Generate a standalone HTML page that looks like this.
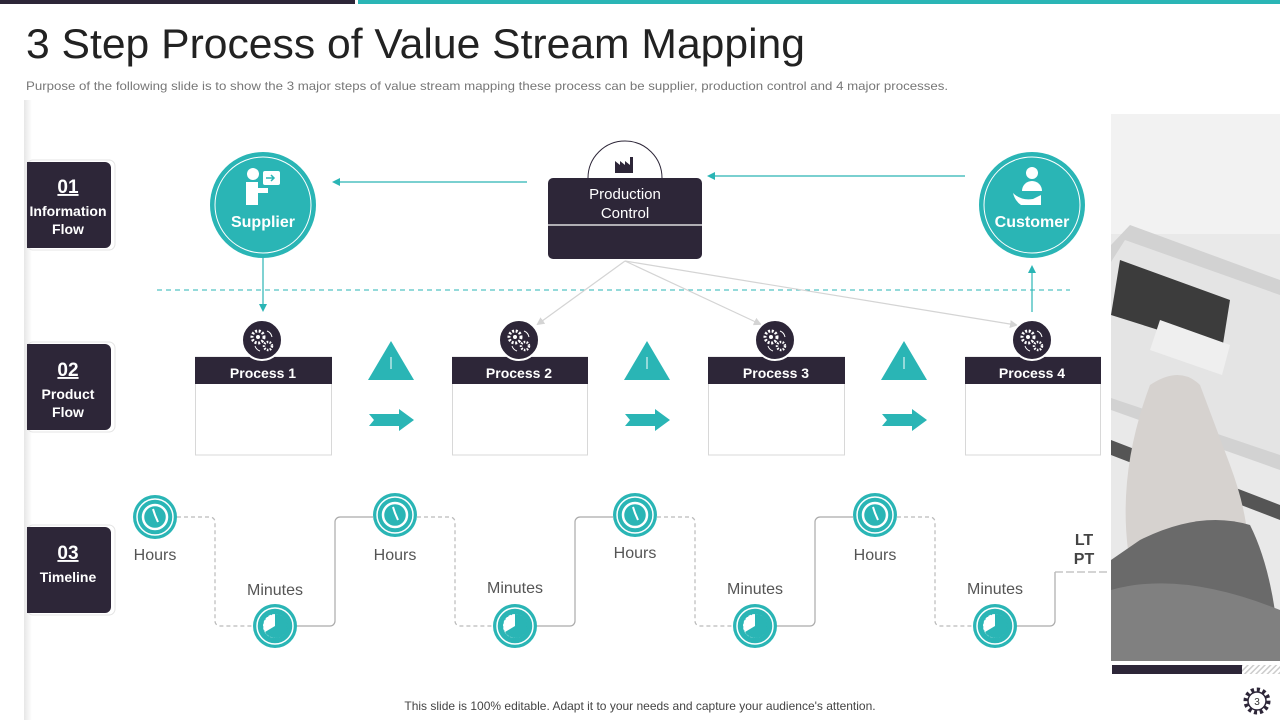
<!DOCTYPE html>
<html><head><meta charset="utf-8"><style>
html,body{margin:0;padding:0;background:#fff;}
svg{display:block;font-family:"Liberation Sans",sans-serif;}
</style></head><body>
<svg width="1280" height="720" viewBox="0 0 1280 720" xmlns="http://www.w3.org/2000/svg">
<defs>
<linearGradient id="sh" x1="0" x2="1"><stop offset="0" stop-color="#e6e6e6"/><stop offset="1" stop-color="#fff"/></linearGradient>
<marker id="at" markerWidth="8" markerHeight="8" refX="6" refY="4" orient="auto" markerUnits="userSpaceOnUse"><path d="M0,0 L8,4 L0,8 Z" fill="#2ab5b5"/></marker>
<marker id="ag" markerWidth="8" markerHeight="8" refX="6" refY="4" orient="auto" markerUnits="userSpaceOnUse"><path d="M0,0 L8,4 L0,8 Z" fill="#d4d4d4"/></marker>
<pattern id="hatch" width="4" height="4" patternUnits="userSpaceOnUse" patternTransform="rotate(45)"><rect width="4" height="4" fill="#fff"/><rect width="1.5" height="4" fill="#ccc"/></pattern>
<g id="gear"><circle r="20" fill="#2d2638" stroke="#fff" stroke-width="2"/><circle cx="-4" cy="-3" r="6" fill="none" stroke="#fff" stroke-width="3" stroke-dasharray="2 1.6"/><circle cx="-4" cy="-3" r="2" fill="#fff"/><circle cx="6" cy="6" r="4" fill="none" stroke="#fff" stroke-width="2.5" stroke-dasharray="1.6 1.3"/><path d="M5,-9 A8,8 0 0 1 10,-3" fill="none" stroke="#fff" stroke-width="1"/><path d="M-7,6 A8,8 0 0 0 -2,11" fill="none" stroke="#fff" stroke-width="1"/></g>
<g id="clockH"><circle r="22" fill="#2ab5b5"/><circle r="18" fill="none" stroke="#fff" stroke-width="1.5"/><circle r="12" fill="none" stroke="#fff" stroke-width="2.5"/><path d="M-2,-8 L0,-2 L3,5" fill="none" stroke="#fff" stroke-width="2"/></g>
<g id="clockM"><circle r="22" fill="#2ab5b5"/><circle r="18" fill="none" stroke="#fff" stroke-width="1.5"/><circle r="12" fill="#fff"/><path d="M0,0 L0,-12 A12,12 0 1 1 -10,6 Z" fill="#2ab5b5"/><circle r="12" fill="none" stroke="#2ab5b5" stroke-width="1" stroke-dasharray="1 3"/></g>
<g id="tri"><path d="M0,-20 L23,19 L-23,19 Z" fill="#2ab5b5"/><line x1="0" y1="-4" x2="0" y2="8" stroke="#fff" stroke-width="1"/></g>
<g id="arr"><path d="M-22,-6 L8,-6 L8,-11 L23,0 L8,11 L8,6 L-22,6 L-17,0 Z" fill="#2ab5b5"/></g>
</defs>

<rect x="0" y="0" width="355" height="4" fill="#2d2638"/>
<rect x="358" y="0" width="922" height="4" fill="#2ab5b5"/>
<text x="26" y="58" font-size="42" fill="#222" textLength="779" lengthAdjust="spacingAndGlyphs">3 Step Process of Value Stream Mapping</text>
<text x="26" y="90" font-size="12" fill="#777" textLength="922" lengthAdjust="spacingAndGlyphs">Purpose of the following slide is to show the 3 major steps of value  stream mapping these process can be supplier,  production  control and 4 major processes.</text>

<rect x="24" y="100" width="8" height="620" fill="url(#sh)"/>

<g font-weight="bold" fill="#fff" text-anchor="middle">
<rect x="27" y="160" width="88" height="90" rx="6" fill="none" stroke="#e4e4e4"/>
<path d="M27,162 H105 a6,6 0 0 1 6,6 V242 a6,6 0 0 1 -6,6 H27 Z" fill="#2d2638"/>
<text x="68" y="193" font-size="19" text-decoration="underline">01</text>
<text x="68" y="216" font-size="14">Information</text><text x="68" y="234" font-size="14">Flow</text>
<rect x="27" y="342" width="88" height="90" rx="6" fill="none" stroke="#e4e4e4"/>
<path d="M27,344 H105 a6,6 0 0 1 6,6 V424 a6,6 0 0 1 -6,6 H27 Z" fill="#2d2638"/>
<text x="68" y="376" font-size="19" text-decoration="underline">02</text>
<text x="68" y="399" font-size="14">Product</text><text x="68" y="417" font-size="14">Flow</text>
<rect x="27" y="525" width="88" height="90" rx="6" fill="none" stroke="#e4e4e4"/>
<path d="M27,527 H105 a6,6 0 0 1 6,6 V607 a6,6 0 0 1 -6,6 H27 Z" fill="#2d2638"/>
<text x="68" y="559" font-size="19" text-decoration="underline">03</text>
<text x="68" y="582" font-size="14">Timeline</text>
</g>

<circle cx="263" cy="205" r="53" fill="#2ab5b5"/>
<circle cx="263" cy="205" r="48" fill="none" stroke="#fff" stroke-width="1"/>
<circle cx="253" cy="174" r="6" fill="#fff"/>
<path d="M246,182 h12 l0,6 h10 v5 h-10 v12 h-12 Z" fill="#fff"/>
<rect x="263" y="171" width="17" height="14" rx="2" fill="#fff"/>
<path d="M266,178 h8 m-3,-3 l3,3 l-3,3" stroke="#2ab5b5" stroke-width="1.5" fill="none"/>
<text x="263" y="227" font-size="16" font-weight="bold" fill="#fff" text-anchor="middle">Supplier</text>

<circle cx="1032" cy="205" r="53" fill="#2ab5b5"/>
<circle cx="1032" cy="205" r="48" fill="none" stroke="#fff" stroke-width="1"/>
<circle cx="1032" cy="173" r="6" fill="#fff"/>
<path d="M1022,191 a10,10 0 0 1 20,0 Z" fill="#fff"/>
<path d="M1013,193 q8,8 20,6 l8,-4 v10 h-20 q-6,-4 -8,-12 Z" fill="#fff"/>
<text x="1032" y="227" font-size="16" font-weight="bold" fill="#fff" text-anchor="middle">Customer</text>

<path d="M588,178 A37,37 0 0 1 662,178" fill="#fff" stroke="#2d2638" stroke-width="1"/>
<path d="M615,173 v-12 l5,4 v-4 l5,4 v-4 l5,4 v-8 h3 v16 Z" fill="#2d2638"/>
<rect x="548" y="178" width="154" height="81" rx="5" fill="#2d2638"/>
<line x1="548" y1="225" x2="702" y2="225" stroke="#fff" stroke-width="1.2"/>
<text x="625" y="199" font-size="15" fill="#fff" text-anchor="middle">Production</text>
<text x="625" y="218" font-size="15" fill="#fff" text-anchor="middle">Control</text>

<line x1="527" y1="182" x2="334" y2="182" stroke="#2ab5b5" stroke-width="1.2" marker-end="url(#at)"/>
<line x1="965" y1="176" x2="709" y2="176" stroke="#2ab5b5" stroke-width="1.2" marker-end="url(#at)"/>
<line x1="263" y1="258" x2="263" y2="310" stroke="#2ab5b5" stroke-width="1.2" marker-end="url(#at)"/>
<line x1="1032" y1="312" x2="1032" y2="267" stroke="#2ab5b5" stroke-width="1.2" marker-end="url(#at)"/>
<line x1="157" y1="290" x2="1070" y2="290" stroke="#2ab5b5" stroke-width="1" stroke-dasharray="5 4"/>
<g stroke="#d4d4d4" stroke-width="1.2" fill="none">
<line x1="625" y1="261" x2="538" y2="324" marker-end="url(#ag)"/>
<line x1="625" y1="261" x2="760" y2="324" marker-end="url(#ag)"/>
<line x1="625" y1="261" x2="1016" y2="325" marker-end="url(#ag)"/>
</g>

<g font-weight="bold" font-size="14" fill="#fff" text-anchor="middle">
<rect x="195.5" y="357" width="136" height="98" fill="#fff" stroke="#d8d8d8"/><rect x="195" y="357" width="137" height="27" fill="#2d2638"/><text x="263" y="378">Process 1</text>
<rect x="452.5" y="357" width="135" height="98" fill="#fff" stroke="#d8d8d8"/><rect x="452" y="357" width="136" height="27" fill="#2d2638"/><text x="519" y="378">Process 2</text>
<rect x="708.5" y="357" width="136" height="98" fill="#fff" stroke="#d8d8d8"/><rect x="708" y="357" width="137" height="27" fill="#2d2638"/><text x="776" y="378">Process 3</text>
<rect x="965.5" y="357" width="135" height="98" fill="#fff" stroke="#d8d8d8"/><rect x="965" y="357" width="136" height="27" fill="#2d2638"/><text x="1032" y="378">Process 4</text>
</g>
<use href="#gear" x="262" y="340"/><use href="#gear" x="519" y="340"/><use href="#gear" x="775" y="340"/><use href="#gear" x="1032" y="340"/>
<use href="#tri" x="391" y="361"/><use href="#tri" x="647" y="361"/><use href="#tri" x="904" y="361"/>
<use href="#arr" x="391" y="420"/><use href="#arr" x="647" y="420"/><use href="#arr" x="904" y="420"/>

<g fill="none" stroke-width="1.2">
<path d="M177,517 H210 a5,5 0 0 1 5,5 V621 a5,5 0 0 0 5,5 H253" stroke="#bbb" stroke-dasharray="4 3"/>
<path d="M297,626 H330 a5,5 0 0 0 5,-5 V522 a5,5 0 0 1 5,-5 H373" stroke="#aaa"/>
<path d="M417,517 H450 a5,5 0 0 1 5,5 V621 a5,5 0 0 0 5,5 H493" stroke="#bbb" stroke-dasharray="4 3"/>
<path d="M537,626 H570 a5,5 0 0 0 5,-5 V522 a5,5 0 0 1 5,-5 H613" stroke="#aaa"/>
<path d="M657,517 H690 a5,5 0 0 1 5,5 V621 a5,5 0 0 0 5,5 H733" stroke="#bbb" stroke-dasharray="4 3"/>
<path d="M777,626 H810 a5,5 0 0 0 5,-5 V522 a5,5 0 0 1 5,-5 H853" stroke="#aaa"/>
<path d="M897,517 H930 a5,5 0 0 1 5,5 V621 a5,5 0 0 0 5,5 H973" stroke="#bbb" stroke-dasharray="4 3"/>
<path d="M1017,626 H1050 a5,5 0 0 0 5,-5 V572" stroke="#aaa"/>
<path d="M1055,572 H1110" stroke="#bbb" stroke-dasharray="8 3"/>
</g>
<use href="#clockH" x="155" y="517"/><use href="#clockH" x="395" y="515"/><use href="#clockH" x="635" y="515"/><use href="#clockH" x="875" y="515"/>
<use href="#clockM" x="275" y="626"/><use href="#clockM" x="515" y="626"/><use href="#clockM" x="755" y="626"/><use href="#clockM" x="995" y="626"/>
<g font-size="16" fill="#555" text-anchor="middle">
<text x="155" y="560">Hours</text><text x="395" y="560">Hours</text><text x="635" y="558">Hours</text><text x="875" y="560">Hours</text>
<text x="275" y="595">Minutes</text><text x="515" y="593">Minutes</text><text x="755" y="594">Minutes</text><text x="995" y="594">Minutes</text>
</g>
<text x="1084" y="545" font-size="16" font-weight="bold" fill="#444" text-anchor="middle">LT</text>
<text x="1084" y="564" font-size="16" font-weight="bold" fill="#444" text-anchor="middle">PT</text>

<!-- photo -->
<rect x="1111" y="114" width="169" height="547" fill="#e9e9e9"/>
<rect x="1111" y="114" width="169" height="120" fill="#f2f2f2"/>
<path d="M1130,225 L1280,280 L1280,470 L1111,410 L1111,245 Z" fill="#d2d2d2"/>
<path d="M1125,240 L1280,295 L1280,455 L1111,398 L1111,262 Z" fill="#e4e4e4"/>
<path d="M1120,260 L1230,300 L1222,350 L1111,315 Z" fill="#3c3c3c"/>
<path d="M1160,320 L1230,345 L1222,375 L1150,350 Z" fill="#efefef"/>
<path d="M1111,440 L1280,505 L1280,520 L1111,455 Z" fill="#555"/>
<path d="M1150,385 q30,-20 50,0 l30,80 q15,40 18,75 l-120,10 q-10,-80 22,-165 Z" fill="#d6d2cf"/>
<path d="M1140,540 q60,-30 110,-15 q25,50 30,136 H1111 V560 Z" fill="#6a6a6a"/>
<path d="M1111,590 q70,-20 169,20 V661 H1111 Z" fill="#808080"/>
<rect x="1112" y="665" width="130" height="9" fill="#2d2638"/>
<rect x="1242" y="665" width="38" height="9" fill="url(#hatch)"/>

<text x="640" y="710" font-size="12" fill="#444" text-anchor="middle">This slide is 100% editable. Adapt it to your needs and capture your audience's attention.</text>
<circle cx="1257" cy="701" r="11" fill="none" stroke="#2d2638" stroke-width="5" stroke-dasharray="3 2.7"/>
<circle cx="1257" cy="701" r="9" fill="#fff" stroke="#2d2638" stroke-width="1.5"/>
<text x="1257" y="705" font-size="10" fill="#333" text-anchor="middle">3</text>
</svg>
</body></html>
